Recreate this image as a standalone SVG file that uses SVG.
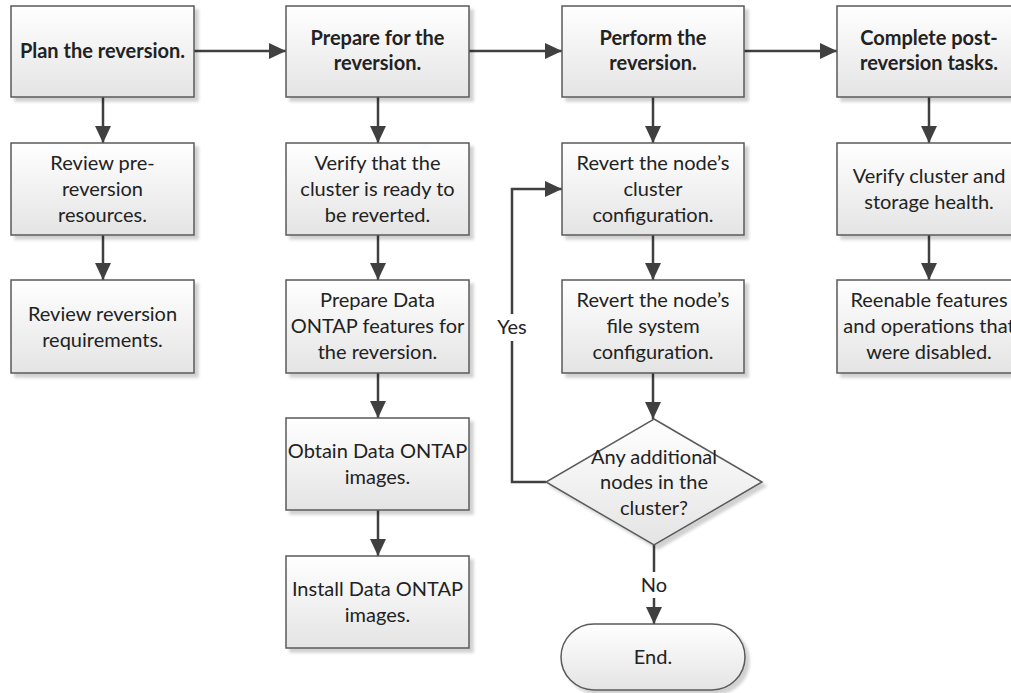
<svg xmlns="http://www.w3.org/2000/svg" width="1011" height="693" viewBox="0 0 1011 693">
<defs>
<linearGradient id="g" x1="0" y1="0" x2="0" y2="1">
<stop offset="0" stop-color="#ffffff"/>
<stop offset="1" stop-color="#e4e4e4"/>
</linearGradient>
<filter id="sh" x="-10%" y="-10%" width="130%" height="130%">
<feDropShadow dx="4" dy="4" stdDeviation="1.5" flood-color="#000" flood-opacity="0.18"/>
</filter>
<marker id="ah" markerUnits="userSpaceOnUse" markerWidth="18" markerHeight="16" refX="17" refY="8" orient="auto">
<path d="M0,0 L17,8 L0,16 Z" fill="#404040"/>
</marker>
<style>
.box{fill:url(#g);stroke:#5a5a5a;stroke-width:1.5;filter:url(#sh)}
.t{font-family:Lato,"Liberation Sans",sans-serif;font-size:20px;fill:#222;text-anchor:middle}
.b{font-weight:bold}
.c{fill:none;stroke:#404040;stroke-width:2.5}
.ca{fill:none;stroke:#404040;stroke-width:2.5;marker-end:url(#ah)}
</style>
</defs>
<g id="connectors">
<line class="ca" x1="194" y1="51" x2="286" y2="51"/>
<line class="ca" x1="469" y1="51" x2="562" y2="51"/>
<line class="ca" x1="744" y1="51" x2="837" y2="51"/>
<line class="ca" x1="103" y1="97" x2="103" y2="143"/>
<line class="ca" x1="103" y1="235" x2="103" y2="280"/>
<line class="ca" x1="378" y1="97" x2="378" y2="143"/>
<line class="ca" x1="378" y1="235" x2="378" y2="280"/>
<line class="ca" x1="378" y1="373" x2="378" y2="418"/>
<line class="ca" x1="378" y1="510" x2="378" y2="556"/>
<line class="ca" x1="653" y1="97" x2="653" y2="143"/>
<line class="ca" x1="653" y1="235" x2="653" y2="280"/>
<line class="ca" x1="653" y1="373" x2="653" y2="419"/>
<line class="ca" x1="929" y1="97" x2="929" y2="143"/>
<line class="ca" x1="929" y1="235" x2="929" y2="280"/>
<line class="c" x1="654" y1="545" x2="654" y2="572"/>
<line class="ca" x1="654" y1="598" x2="654" y2="624"/>
<text class="t" x="654" y="592">No</text>
<polyline class="c" points="546,482 512,482 512,341"/>
<polyline class="ca" points="512,314 512,189 562,189"/>
<text class="t" x="512" y="334">Yes</text>
</g>
<g id="n1"><rect class="box" x="11" y="6" width="183" height="91"/>
<text class="t b" x="102.5" y="58">Plan the reversion.</text></g>
<g id="n2"><rect class="box" x="286" y="6" width="183" height="91"/>
<text class="t b" x="377.5" y="45">Prepare for the</text><text class="t b" x="377.5" y="70">reversion.</text></g>
<g id="n3"><rect class="box" x="562" y="6" width="182" height="91"/>
<text class="t b" x="653" y="45">Perform the</text><text class="t b" x="653" y="70">reversion.</text></g>
<g id="n4"><rect class="box" x="837" y="6" width="184" height="91"/>
<text class="t b" x="929" y="45">Complete post-</text><text class="t b" x="929" y="70">reversion tasks.</text></g>
<g id="n5"><rect class="box" x="11" y="143" width="183" height="92"/>
<text class="t" x="102.5" y="170">Review pre-</text><text class="t" x="102.5" y="196">reversion</text><text class="t" x="102.5" y="222">resources.</text></g>
<g id="n6"><rect class="box" x="11" y="280" width="183" height="93"/>
<text class="t" x="102.5" y="321">Review reversion</text><text class="t" x="102.5" y="347">requirements.</text></g>
<g id="n7"><rect class="box" x="286" y="143" width="183" height="92"/>
<text class="t" x="377.5" y="170">Verify that the</text><text class="t" x="377.5" y="196">cluster is ready to</text><text class="t" x="377.5" y="222">be reverted.</text></g>
<g id="n8"><rect class="box" x="286" y="280" width="183" height="93"/>
<text class="t" x="377.5" y="307">Prepare Data</text><text class="t" x="377.5" y="333">ONTAP features for</text><text class="t" x="377.5" y="359">the reversion.</text></g>
<g id="n9"><rect class="box" x="286" y="418" width="183" height="92"/>
<text class="t" x="377.5" y="458">Obtain Data ONTAP</text><text class="t" x="377.5" y="484">images.</text></g>
<g id="n10"><rect class="box" x="286" y="556" width="183" height="92"/>
<text class="t" x="377.5" y="596">Install Data ONTAP</text><text class="t" x="377.5" y="622">images.</text></g>
<g id="n11"><rect class="box" x="562" y="143" width="182" height="92"/>
<text class="t" x="653" y="170">Revert the node’s</text><text class="t" x="653" y="196">cluster</text><text class="t" x="653" y="222">configuration.</text></g>
<g id="n12"><rect class="box" x="562" y="280" width="182" height="93"/>
<text class="t" x="653" y="307">Revert the node’s</text><text class="t" x="653" y="333">file system</text><text class="t" x="653" y="359">configuration.</text></g>
<g id="n13"><polygon class="box" points="654,419 762,482 654,545 546,482"/>
<text class="t" x="654" y="464">Any additional</text><text class="t" x="654" y="489">nodes in the</text><text class="t" x="654" y="515">cluster?</text></g>
<g id="n14"><rect class="box" x="561" y="624" width="184" height="66" rx="33" ry="33"/>
<text class="t" x="653" y="664">End.</text></g>
<g id="n15"><rect class="box" x="837" y="143" width="184" height="92"/>
<text class="t" x="929" y="183">Verify cluster and</text><text class="t" x="929" y="209">storage health.</text></g>
<g id="n16"><rect class="box" x="837" y="280" width="184" height="93"/>
<text class="t" x="929" y="307">Reenable features</text><text class="t" x="929" y="333">and operations that</text><text class="t" x="929" y="359">were disabled.</text></g>
</svg>
